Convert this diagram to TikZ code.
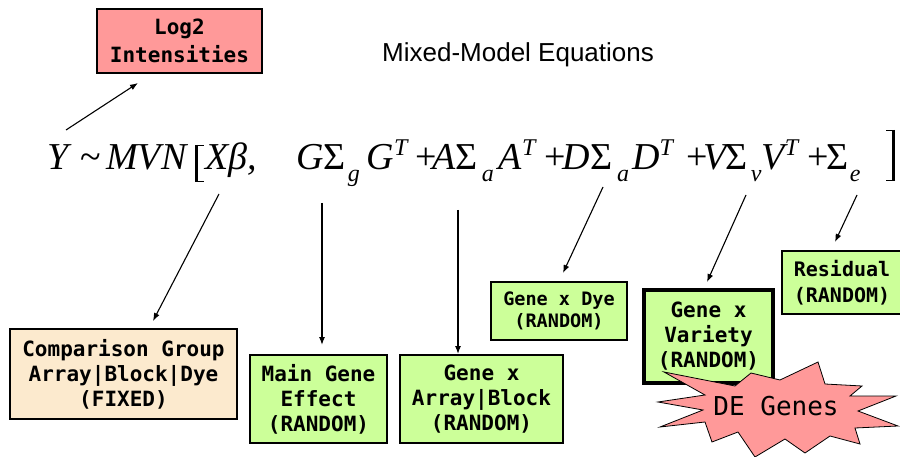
\documentclass[tikz,border=0pt]{standalone}
\usepackage{fontspec}
\setmainfont{Liberation Serif}
\newfontfamily\arialf{Liberation Sans}
\newfontfamily\monof{DejaVu Sans Mono}
\usetikzlibrary{arrows.meta}
\definecolor{pinkf}{RGB}{255,153,153}
\definecolor{greenf}{RGB}{204,255,153}
\definecolor{beigef}{RGB}{252,234,206}
\newcommand\esub[1]{\raisebox{-12pt}{\fontsize{24}{24}\selectfont\itshape #1}}
\newcommand\esup[1]{\raisebox{14pt}{\fontsize{24}{24}\selectfont\itshape #1}}
\begin{document}
\begin{tikzpicture}[x=1pt,y=-1pt,
  box/.style={draw=black,line width=1.6pt,inner sep=0pt,align=center,
    font=\monof\bfseries\fontsize{21}{25}\selectfont},
  eq/.style={anchor=base west,inner sep=0pt,font=\fontsize{38}{40}\selectfont\itshape},
  arr/.style={line width=1.1pt,-{Latex[length=8pt,width=6pt]}}]
\useasboundingbox (0,0) rectangle (900,457);
\fill[white] (0,0) rectangle (900,457);

% title
\node[anchor=base west,inner sep=0pt,font=\arialf\fontsize{26}{30}\selectfont] (title) at (382,62) {Mixed-Model Equations};

% top box
\node[box,fill=pinkf,minimum width=165pt,minimum height=64pt,font=\monof\bfseries\fontsize{21}{28}\selectfont] (logb) at (179.5,41) {Log2\\Intensities};

% equation
\node[eq] (eY) at (47,170) {Y};
\node[eq,font=\fontsize{38}{40}\selectfont] (eT) at (80,170) {\textasciitilde};
\node[eq] (eM) at (106,170) {MVN};
\node[eq] (eX) at (205,170) {Xβ,};
\node[eq] (eG) at (296,170) {G{\upshape Σ}\kern2pt\esub{g}\kern7pt G\esup{T}};
\node[eq] (eA) at (415,170) {{\upshape +}\kern-4pt A{\upshape Σ}\kern4pt\esub{a}\kern5pt A\esup{T}};
\node[eq] (eD) at (544,170) {{\upshape +}\kern-3pt D{\upshape Σ}\kern5pt\esub{a}\kern3pt D\esup{T}};
\node[eq] (eV) at (686,170) {{\upshape +}\kern-4pt V\kern-1pt{\upshape Σ}\kern3pt\esub{v}\kern0pt V\esup{T}};
\node[eq] (eE) at (807,170) {{\upshape +}\kern-2pt{\upshape Σ}\kern1pt\esub{e}};
% brackets
\draw[line width=3pt] (196.5,145) -- (196.5,182);
\draw[line width=1.3pt] (195,145.6) -- (204,145.6) (195,181.4) -- (204,181.4);
\draw[line width=3pt] (893.5,130) -- (893.5,181);
\draw[line width=1.3pt] (895,130.6) -- (886,130.6) (895,180.4) -- (886,180.4);

% boxes
\node[box,fill=beigef,minimum width=227pt,minimum height=90pt] (cmp) at (123.5,374) {Comparison Group\\Array|Block|Dye\\(FIXED)};
\node[box,fill=greenf,minimum width=137pt,minimum height=88pt] (mge) at (318.5,399) {Main Gene\\Effect\\(RANDOM)};
\node[box,fill=greenf,minimum width=163pt,minimum height=88pt] (gxa) at (481.5,399) {Gene x\\Array|Block\\(RANDOM)};
\node[box,fill=greenf,minimum width=136pt,minimum height=58pt,font=\monof\bfseries\fontsize{18.5}{22}\selectfont] (gxd) at (559,311) {Gene x Dye\\(RANDOM)};
\node[box,fill=greenf,line width=4pt,minimum width=129pt,minimum height=93pt] (gxv) at (708.5,336.5) {Gene x\\Variety\\(RANDOM)};
\node[box,fill=greenf,minimum width=120pt,minimum height=63pt,font=\monof\bfseries\fontsize{20}{26}\selectfont] (res) at (842,282.5) {Residual\\(RANDOM)};

% starburst
\draw[fill=pinkf,draw=black,line width=0.8pt]
  (658,402) -- (705,395) -- (664,372) -- (735,386) -- (751,373) -- (780,380)
  -- (818,362) -- (825,384) -- (862,386) -- (850,396) -- (896,396) -- (858,411)
  -- (898,426) -- (855,428) -- (860,444) -- (830,436) -- (805,453) -- (785,439)
  -- (755,457) -- (738,432) -- (712,442) -- (705,422) -- (660,427) -- (703,410) -- cycle;
\node[inner sep=0pt,anchor=base,font=\monof\fontsize{26}{30}\selectfont] (deg) at (776,415) {DE Genes};

% arrow coordinates
\coordinate (s0) at (66,130);  \coordinate (t0) at (138,83);
\coordinate (s1) at (219,194); \coordinate (t1) at (153,321);
\coordinate (s2) at (322,203); \coordinate (t2) at (322,345);
\coordinate (s3) at (458,210); \coordinate (t3) at (458,354);
\coordinate (s4) at (603,187); \coordinate (t4) at (563,273);
\coordinate (s5) at (746,195); \coordinate (t5) at (707,282);
\coordinate (s6) at (857,195); \coordinate (t6) at (835,242);
\draw[arr] (s0) -- (t0);
\draw[arr] (s1) -- (t1);
\draw[arr] (s2) -- (t2);
\draw[arr] (s3) -- (t3);
\draw[arr] (s4) -- (t4);
\draw[arr] (s5) -- (t5);
\draw[arr] (s6) -- (t6);
\end{tikzpicture}
\end{document}
